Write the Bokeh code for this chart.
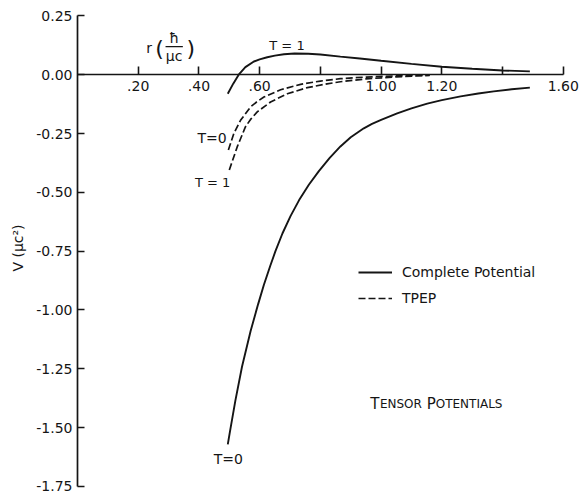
from bokeh.plotting import figure
from bokeh.models import Range1d, FixedTicker, LinearAxis, Legend, LegendItem
from bokeh.core.properties import value
from bokeh.embed import file_html
from bokeh.resources import INLINE

# Complete potential, isospin T = 1
r_full_t1 = [0.495, 0.513, 0.531, 0.553, 0.581, 0.600, 0.625, 0.650, 0.680, 0.715, 0.760,
             0.800, 0.866, 0.930, 1.00, 1.10, 1.20, 1.30, 1.40, 1.49]
v_full_t1 = [-0.081, -0.038, 0.0, 0.032, 0.056, 0.065, 0.074, 0.081, 0.087, 0.090, 0.089,
             0.086, 0.077, 0.069, 0.059, 0.046, 0.034, 0.025, 0.018, 0.014]

# Complete potential, T = 0
r_full_t0 = [0.495, 0.502, 0.520, 0.542, 0.570, 0.595, 0.614, 0.635, 0.652, 0.675,
             0.702, 0.730, 0.762, 0.795, 0.830, 0.866, 0.900, 0.943, 0.970, 1.000,
             1.053, 1.100, 1.152, 1.200, 1.262, 1.320, 1.371, 1.430, 1.490]
v_full_t0 = [-1.571, -1.518, -1.385, -1.240, -1.090, -0.975, -0.893, -0.812, -0.750, -0.675,
             -0.600, -0.533, -0.468, -0.410, -0.355, -0.305, -0.266, -0.228, -0.209, -0.192,
             -0.164, -0.143, -0.123, -0.108, -0.092, -0.080, -0.071, -0.062, -0.055]

# Two-pion-exchange potential (TPEP), T = 0 and T = 1
r_tpep_t0 = [0.497, 0.515, 0.537, 0.570, 0.590, 0.614, 0.669, 0.735, 0.80, 0.866,
             0.95, 1.05, 1.16]
v_tpep_t0 = [-0.32, -0.25, -0.194, -0.137, -0.116, -0.095, -0.064, -0.041, -0.027, -0.017,
             -0.010, -0.005, -0.002]
r_tpep_t1 = [0.500, 0.526, 0.553, 0.570, 0.592, 0.636, 0.691, 0.757, 0.822, 0.866,
             0.95, 1.05, 1.16]
v_tpep_t1 = [-0.405, -0.307, -0.222, -0.190, -0.158, -0.116, -0.081, -0.055, -0.039, -0.030,
             -0.018, -0.009, -0.003]

x_ticks = [0.2, 0.4, 0.6, 0.8, 1.0, 1.2, 1.4, 1.6]
x_tick_labels = [".20", ".40", ".60", "", "1.00", "1.20", "", "1.60"]
y_ticks = [0.25, 0.0, -0.25, -0.5, -0.75, -1.0, -1.25, -1.5, -1.75]
y_tick_labels = ["0.25", "0.00", "-0.25", "-0.50", "-0.75", "-1.00", "-1.25", "-1.50", "-1.75"]

FONT = "DejaVu Sans"
INK = "#151515"

p = figure(width=579, height=495, output_backend="svg", toolbar_location=None,
           x_range=Range1d(0, 1.6535), y_range=Range1d(-1.7884, 0.3153),
           x_axis_location=None, y_axis_location="left",
           min_border=0, min_border_left=77)
p.outline_line_color = None
p.grid.visible = False
p.background_fill_color = "white"

# vertical potential axis
ya = p.yaxis[0]
ya.ticker = FixedTicker(ticks=y_ticks)
ya.major_label_overrides = dict(zip(y_ticks, y_tick_labels))
ya.bounds = (-1.75, 0.25)
ya.major_tick_in = 7
ya.major_tick_out = 0
ya.minor_tick_line_color = None
ya.axis_line_width = 1.7
ya.major_tick_line_width = 1.6
ya.axis_line_color = INK
ya.major_tick_line_color = INK
ya.major_label_standoff = 5
ya.major_label_text_font = FONT
ya.major_label_text_font_size = "14px"
ya.major_label_text_color = INK
ya.axis_label = "V (μc²)"
ya.axis_label_text_font = FONT
ya.axis_label_text_font_style = "normal"
ya.axis_label_text_font_size = "14px"
ya.axis_label_text_color = INK
ya.axis_label_standoff = 7

# radial axis drawn along V = 0
xa = LinearAxis(fixed_location=0)
xa.ticker = FixedTicker(ticks=x_ticks)
xa.major_label_overrides = dict(zip(x_ticks, x_tick_labels))
xa.bounds = (0, 1.6)
xa.major_tick_in = 8
xa.major_tick_out = 0
xa.minor_tick_line_color = None
xa.axis_line_width = 1.6
xa.major_tick_line_width = 1.6
xa.axis_line_color = INK
xa.major_tick_line_color = INK
xa.major_label_standoff = 6
xa.major_label_text_font = FONT
xa.major_label_text_font_size = "14px"
xa.major_label_text_color = INK
p.add_layout(xa, "below")

full_t1 = p.line(r_full_t1, v_full_t1, line_color=INK, line_width=1.9)
full_t0 = p.line(r_full_t0, v_full_t0, line_color=INK, line_width=1.9)
tpep_t0 = p.line(r_tpep_t0, v_tpep_t0, line_color=INK, line_width=1.7, line_dash="7 3")
tpep_t1 = p.line(r_tpep_t1, v_tpep_t1, line_color=INK, line_width=1.7, line_dash="7 3")

legend = Legend(items=[LegendItem(label="Complete Potential", renderers=[full_t0]),
                       LegendItem(label="TPEP", renderers=[tpep_t0])],
                location=(281, 187), orientation="vertical",
                border_line_color=None, background_fill_alpha=0,
                padding=0, margin=0, spacing=6, glyph_width=34, glyph_height=20,
                label_standoff=10, label_text_font=FONT,
                label_text_font_size="14px", label_text_color=INK)
p.add_layout(legend, "center")

def note(x, y, s, size="13px", align="center", baseline="middle"):
    p.text(x=[x], y=[y], text=[s], text_font=value(FONT), text_font_size=size,
           text_align=align, text_baseline=baseline, text_color=INK)

# curve labels
note(0.69, 0.123, "T = 1")
note(0.443, -0.27, "T=0", size="14px")
note(0.445, -0.46, "T = 1")
note(0.497, -1.635, "T=0", size="14px")

# radial unit label  r (ħ / μc)
note(0.236, 0.112, "r", size="14px")
note(0.270, 0.110, "(", size="22px")
note(0.318, 0.157, "ħ", size="14px")
p.segment(x0=[0.290], y0=[0.119], x1=[0.347], y1=[0.119], line_color=INK, line_width=1.2)
note(0.318, 0.081, "μc", size="14px")
note(0.373, 0.110, ")", size="22px")

# small-caps title
note(0.964, -1.399, "T", size="15px", align="left", baseline="alphabetic")
note(0.996, -1.399, "ENSOR", size="12px", align="left", baseline="alphabetic")
note(1.150, -1.399, "P", size="15px", align="left", baseline="alphabetic")
note(1.180, -1.399, "OTENTIALS", size="12px", align="left", baseline="alphabetic")

open("out.html", "w").write(file_html(p, INLINE))
